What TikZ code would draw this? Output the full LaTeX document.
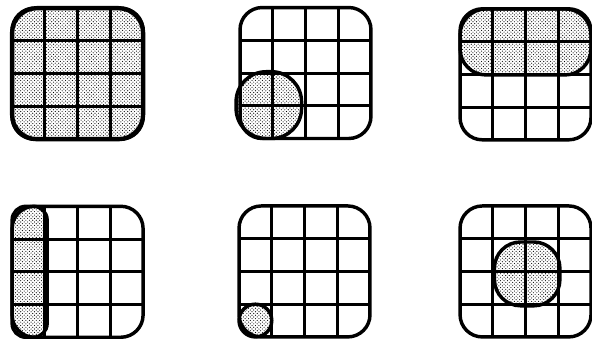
\documentclass[tikz,border=0pt]{standalone}
\usetikzlibrary{patterns}

\begin{document}
\begin{tikzpicture}[
    frame/.style={line width=3pt, rounded corners=0.68cm},
    bigframe/.style={line width=3.8pt, rounded corners=0.75cm},
    gridline/.style={line width=2.6pt},
    stipple/.style={pattern=crosshatch dots, pattern color=black},
    spot/.style={draw, line width=3pt, stipple}
]
\useasboundingbox (0,0) rectangle (18.08,10.47);

% Lower left corners of the six grids
\coordinate (g1) at (0.37,6.22);
\coordinate (g2) at (7.33,6.24);
\coordinate (g3) at (14.05,6.20);
\coordinate (g4) at (0.37,0.17);
\coordinate (g5) at (7.30,0.18);
\coordinate (g6) at (14.05,0.18);

% Whole field shaded
\fill[stipple, rounded corners=0.75cm] (g1) rectangle ++(4,4);

% Empty 4x4 grids
\foreach \g in {g1,g2,g3,g4,g5,g6} {
  \begin{scope}[shift={(\g)}]
    \begin{scope}
      \clip[rounded corners=0.68cm] (0,0) rectangle (4,4);
      \draw[gridline] (0,0) grid (4,4);
    \end{scope}
    \draw[frame] (0,0) rectangle (4,4);
  \end{scope}
}
\draw[bigframe] (g1) rectangle ++(4,4);

% Shaded regions
\begin{scope}[shift={(g2)}]
  \draw[spot, rounded corners=0.92cm] (-0.12,0) rectangle (1.88,2.04);
\end{scope}
\begin{scope}[shift={(g3)}]
  \draw[spot, rounded corners=0.8cm] (0,1.98) rectangle (4,4);
\end{scope}
\begin{scope}[shift={(g4)}]
  \draw[spot, rounded corners=0.42cm] (0,0) rectangle (1.07,4);
\end{scope}
\begin{scope}[shift={(g5)}]
  \draw[spot] (0.5,0.5) circle (0.5);
\end{scope}
\begin{scope}[shift={(g6)}]
  \draw[spot, rounded corners=0.8cm] (1.05,0.95) rectangle (3.05,2.9);
\end{scope}

\end{tikzpicture}
\end{document}
